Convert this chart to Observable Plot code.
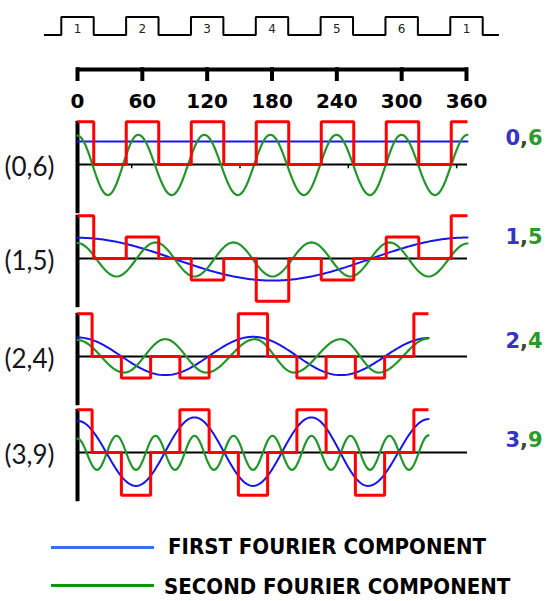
<!DOCTYPE html>
<html><head><meta charset="utf-8">
<script src="https://cdn.jsdelivr.net/npm/d3@7"></script>
<script src="https://cdn.jsdelivr.net/npm/@observablehq/plot@0.6"></script>
<style>
body{margin:0;background:#fff;}
#root{position:relative;width:550px;height:601px;overflow:hidden;background:#fff;}
.leg{position:absolute;font-family:"DejaVu Sans",Verdana,sans-serif;font-weight:bold;font-size:22px;line-height:22px;color:#000;white-space:nowrap;transform:scaleX(0.9);transform-origin:0 0;}
.legline{position:absolute;height:3.5px;}
</style></head><body><div id="root"></div>
<script>
// ---------- data ----------
const topTicks = [0, 60, 120, 180, 240, 300, 360];
const pulseEdges = [-31, -15, 15, 45, 75, 105, 135, 165, 195, 225, 255, 285, 315, 345, 375, 390];
const pulseLevels = [0, 1, 0, 1, 0, 1, 0, 1, 0, 1, 0, 1, 0, 1, 0, 0];
const pulseCenters = [0, 60, 120, 180, 240, 300, 360];
const pulseLabels = ["1", "2", "3", "4", "5", "6", "1"];

const panelNames = ["(0,6)", "(1,5)", "(2,4)", "(3,9)"];
const firstHarmonic = ["0", "1", "2", "3"];
const secondHarmonic = ["6", "5", "4", "9"];

// red stepped waveform: edges (degrees) and level after each edge
const redEdges = [0, 15, 45, 75, 105, 135, 165, 195, 225, 255, 285, 315, 345, 360];
const red06 = [2, 0, 2, 0, 2, 0, 2, 0, 2, 0, 2, 0, 2, 2];
const red15 = [2, 0, 1, 0, -1, 0, -2, 0, -1, 0, 1, 0, 2, 2];
const red24 = [2, 0, -1, 0, -1, 0, 2, 0, -1, 0, -1, 0, 2, 2];
const red39 = [2, 0, -2, 0, 2, 0, -2, 0, 2, 0, -2, 0, 2, 2];

// first Fourier component (blue): extrema positions and values
const blue06X = [0, 360];
const blue06Y = [1.07, 1.07];
const blue15X = [0, 180, 360];
const blue15Y = [0.97, -1.03, 0.98];
const blue24X = [0, 90, 180, 270, 360];
const blue24Y = [0.89, -0.87, 0.92, -0.87, 0.86];
const blue39X = [0, 60, 120, 180, 240, 298, 360];
const blue39Y = [1.48, -1.56, 1.64, -1.56, 1.64, -1.56, 1.56];

// second Fourier component (green): extrema positions and values
const green06X = [0, 28, 56, 87, 117, 148, 178, 209, 239, 270, 299, 330, 360];
const green06Y = [1.35, -1.43, 1.39, -1.43, 1.39, -1.43, 1.39, -1.43, 1.39, -1.43, 1.39, -1.43, 1.39];
const green15X = [0, 36, 72, 108, 144, 180, 216, 252, 288, 324, 360];
const green15Y = [0.72, -0.84, 0.75, -0.84, 0.75, -0.84, 0.75, -0.84, 0.75, -0.84, 0.7];
const green24X = [0, 48, 90, 132, 182, 222, 270, 309, 360];
const green24Y = [0.77, -0.75, 0.81, -0.75, 0.81, -0.75, 0.81, -0.75, 0.84];
const green39X = [0, 20, 40, 60, 80, 100, 120, 140, 160, 180, 200, 220, 240, 260, 280, 300, 320, 340, 360];
const green39Y = [0.65, -0.81, 0.78, -0.81, 0.78, -0.81, 0.78, -0.81, 0.78, -0.81, 0.78, -0.81, 0.78, -0.81, 0.78, -0.81, 0.78, -0.81, 0.8];

const smallTicks06 = [50, 150, 250, 350];
const legendLabels = ["FIRST FOURIER COMPONENT", "SECOND FOURIER COMPONENT"];

// ---------- layout / style ----------
const W = 550, ML = 77, MR = 83;
const UNIT = 21.4, PH = 100, BASE = 50;
const BLUE = "#1616e8", GREEN = "#22962a", RED = "#ff0000";

// smooth half-cosine easing between consecutive extrema
function cosineCurve(context) {
  let x0, y0, started = false;
  return {
    areaStart() {}, areaEnd() {},
    lineStart() { started = false; },
    lineEnd() {},
    point(x, y) {
      x = +x; y = +y;
      if (!started) { context.moveTo(x, y); started = true; }
      else {
        const n = Math.max(2, Math.ceil(Math.abs(x - x0) / 1.5));
        for (let i = 1; i <= n; i++) {
          const t = i / n;
          context.lineTo(x0 + (x - x0) * t, y0 + (y - y0) * (1 - Math.cos(Math.PI * t)) / 2);
        }
      }
      x0 = x; y0 = y;
    }
  };
}

const zip = (xs, ys) => xs.map((x, i) => ({x, y: ys[i]}));
const root = document.getElementById("root");
function place(svg, top) {
  svg.style.position = "absolute";
  svg.style.left = "0px";
  svg.style.top = top + "px";
  root.appendChild(svg);
}

// ---------- top pulse train ----------
const pulse = zip(pulseEdges, pulseLevels);
place(Plot.plot({
  width: W, height: 45, marginLeft: ML, marginRight: 84, marginTop: 0, marginBottom: 0,
  x: {domain: [0, 360], axis: null},
  y: {domain: [0, 1], range: [34.4, 16.5], axis: null},
  style: {background: "transparent", overflow: "visible"},
  marks: [
    Plot.line(pulse, {x: "x", y: "y", curve: "step-after", stroke: "#000", strokeWidth: 2, strokeLinejoin: "miter", strokeLinecap: "butt"}),
    Plot.text(pulseLabels, {x: (d, i) => pulseCenters[i], y: 0.3, text: d => d, fontSize: 12, fontFamily: "DejaVu Sans", fill: "#222"})
  ]
}), 0);

// ---------- top degree axis ----------
place(Plot.plot({
  width: W, height: 70, marginLeft: ML, marginRight: 84, marginTop: 0, marginBottom: 0,
  x: {domain: [0, 360], axis: null},
  y: {domain: [0, 1], range: [24, 36], axis: null},
  style: {background: "transparent", overflow: "visible"},
  marks: [
    Plot.ruleY([0], {x1: 0, x2: 360, stroke: "#000", strokeWidth: 4}),
    Plot.ruleX(topTicks, {x: d => d, y1: -0.15, y2: 1, stroke: "#000", strokeWidth: 4}),
    Plot.text(topTicks, {x: d => d, y: 1, text: d => String(d), dy: 26, lineAnchor: "bottom",
      fontSize: 20, fontWeight: "bold", fontFamily: "DejaVu Sans", fill: "#000"})
  ]
}), 45);

// ---------- four panels ----------
const panels = [
  {name: panelNames[0], first: firstHarmonic[0], second: secondHarmonic[0], red: red06,
   blue: zip(blue06X, blue06Y), green: zip(green06X, green06Y), xMax: 360, base: 164.4, labelY: 1.23, ticks: smallTicks06},
  {name: panelNames[1], first: firstHarmonic[1], second: secondHarmonic[1], red: red15,
   blue: zip(blue15X, blue15Y), green: zip(green15X, green15Y), xMax: 360, base: 257.7, labelY: 1.01},
  {name: panelNames[2], first: firstHarmonic[2], second: secondHarmonic[2], red: red24,
   blue: zip(blue24X, blue24Y), green: zip(green24X, green24Y), xMax: 400, base: 355.7, labelY: 0.69},
  {name: panelNames[3], first: firstHarmonic[3], second: secondHarmonic[3], red: red39,
   blue: zip(blue39X, blue39Y), green: zip(green39X, green39Y), xMax: 400, base: 451.7, labelY: 0.59}
];

for (const p of panels) {
  const red = zip(redEdges, p.red);
  const lab = {frameAnchor: "right", y: p.labelY, textAnchor: "start", fontSize: 21, fontWeight: "bold", fontFamily: "DejaVu Sans", text: d => d};
  const marks = [
    Plot.ruleY([0], {stroke: "#000", strokeWidth: 2}),
    ...(p.ticks ? [Plot.ruleX(p.ticks, {x: d => d, y1: 0, y2: -0.2, stroke: "#000", strokeWidth: 1.5})] : []),
    Plot.ruleX([0], {y1: 2.02, y2: -2.3, stroke: "#000", strokeWidth: 4}),
    Plot.line(p.blue, {x: "x", y: "y", curve: cosineCurve, stroke: BLUE, strokeWidth: 2}),
    Plot.line(p.green, {x: "x", y: "y", curve: cosineCurve, stroke: GREEN, strokeWidth: 2.2}),
    Plot.line(red, {x: "x", y: "y", curve: "step-after", stroke: RED, strokeWidth: 3, strokeLinejoin: "miter", strokeLinecap: "butt"}),
    Plot.text([p.name], {frameAnchor: "left", y: 0, dy: 3, dx: -73, textAnchor: "start", text: d => d,
      fontSize: 26, fontFamily: "Lato", fill: "#151520"}),
    Plot.text([p.first], {...lab, dx: 38, fill: "#3434c4"}),
    Plot.text([","], {...lab, dx: 52.6, fill: "#3a4a2a"}),
    Plot.text([p.second], {...lab, dx: 60.6, fill: "#2a9a2a"})
  ];
  place(Plot.plot({
    width: W, height: PH, marginLeft: ML, marginRight: MR, marginTop: 0, marginBottom: 0,
    x: {domain: [0, p.xMax], axis: null},
    y: {domain: [-(PH - BASE) / UNIT, BASE / UNIT], range: [PH, 0], axis: null},
    style: {background: "transparent", overflow: "visible"},
    marks
  }), p.base - BASE);
}

// ---------- legend ----------
const legend = [
  {label: legendLabels[0], color: "#3a6ef0", lineTop: 545.8, textTop: 535.5, textLeft: 168},
  {label: legendLabels[1], color: "#109410", lineTop: 583.7, textTop: 575.5, textLeft: 164}
];
for (const l of legend) {
  const ln = document.createElement("div");
  ln.className = "legline";
  ln.style.left = "51px"; ln.style.width = "103px"; ln.style.top = l.lineTop + "px"; ln.style.background = l.color;
  root.appendChild(ln);
  const tx = document.createElement("div");
  tx.className = "leg";
  tx.style.left = l.textLeft + "px"; tx.style.top = l.textTop + "px";
  tx.textContent = l.label;
  root.appendChild(tx);
}
</script>
</body></html>
